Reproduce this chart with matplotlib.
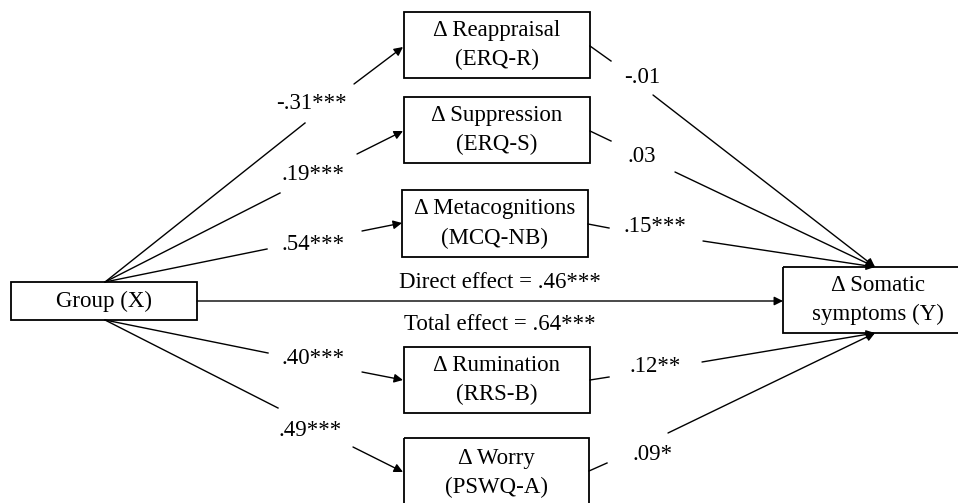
import matplotlib.pyplot as plt
from matplotlib.patches import Rectangle

plt.rcParams['font.family'] = ['Liberation Serif', 'DejaVu Serif']

# mediators and their path coefficients
mediators = ['Reappraisal', 'Suppression', 'Metacognitions', 'Rumination', 'Worry']
scales = ['ERQ-R', 'ERQ-S', 'MCQ-NB', 'RRS-B', 'PSWQ-A']
a_paths = ['-.31***', '.19***', '.54***', '.40***', '.49***']
b_paths = ['-.01', '.03', '.15***', '.12**', '.09*']
direct_effect = '.46***'
total_effect = '.64***'
x_label = 'Group (X)'
y_label = '\u0394 Somatic\nsymptoms (Y)'

# layout (pixel coordinates, y downward)
med_boxes = [(404, 12, 186, 66), (404, 97, 186, 66), (402, 190, 186, 67),
             (404, 347, 186, 66), (404, 438, 185, 70)]
x_box = (11, 282, 186, 38)
y_box = (783, 267, 190, 66)

# a-paths: start, gap start, gap end, arrow tip, label pos
a_geom = [((105, 282), (305, 123), (354, 84), (403, 47), (311, 103)),
          ((105, 282), (280, 193), (357, 154), (403, 131), (313, 175)),
          ((105, 282), (267, 249), (362, 231), (402, 223), (313, 244)),
          ((105, 320), (268, 353), (362, 372), (403, 380), (313, 359)),
          ((105, 320), (278, 408), (353, 447), (403, 472), (310, 430))]
# b-paths
b_geom = [((590, 46), (611, 61), (653, 95), (875, 267), (642, 77)),
          ((590, 131), (611, 141), (675, 172), (875, 267), (642, 157)),
          ((588, 224), (609, 228), (703, 241), (875, 267), (655, 226)),
          ((590, 380), (609, 377), (702, 362), (875, 333), (655, 366)),
          ((589, 471), (607, 463), (668, 433), (875, 333), (653, 454))]

fig = plt.figure(figsize=(9.58, 5.03), dpi=100)
ax = fig.add_axes([0, 0, 1, 1])
ax.set_xlim(0, 958)
ax.set_ylim(503, 0)
ax.axis('off')

fs = 16.5
lw_box = 1.3
lw_line = 1.0


def box(b, text):
    x, y, w, h = b
    ax.add_patch(Rectangle((x, y), w, h, fill=False, edgecolor='black', lw=lw_box))
    ax.text(x + w / 2, y + h / 2, text, ha='center', va='center', fontsize=fs,
            linespacing=1.5)


def path(g, label):
    s, g1, g2, e, lp = g
    ax.plot([s[0], g1[0]], [s[1], g1[1]], color='black', lw=lw_line)
    ax.annotate('', xy=e, xytext=g2,
                arrowprops=dict(arrowstyle='-|>', color='black', lw=lw_line,
                                mutation_scale=13, shrinkA=0, shrinkB=0))
    ax.text(lp[0], lp[1], label, ha='center', va='center', fontsize=fs)


for b, m, s in zip(med_boxes, mediators, scales):
    box(b, '\u0394 ' + m + '\n(' + s + ')')
box(x_box, x_label)
box(y_box, y_label)

for g, lab in zip(a_geom, a_paths):
    path(g, lab)
for g, lab in zip(b_geom, b_paths):
    path(g, lab)

# direct path
ax.annotate('', xy=(783, 301), xytext=(197, 301),
            arrowprops=dict(arrowstyle='-|>', color='black', lw=lw_line,
                            mutation_scale=13, shrinkA=0, shrinkB=0))
ax.text(500, 283, 'Direct effect = ' + direct_effect, ha='center', va='center', fontsize=fs)
ax.text(500, 325, 'Total effect = ' + total_effect, ha='center', va='center', fontsize=fs)

fig.savefig('out.png', dpi=100, facecolor='white')
